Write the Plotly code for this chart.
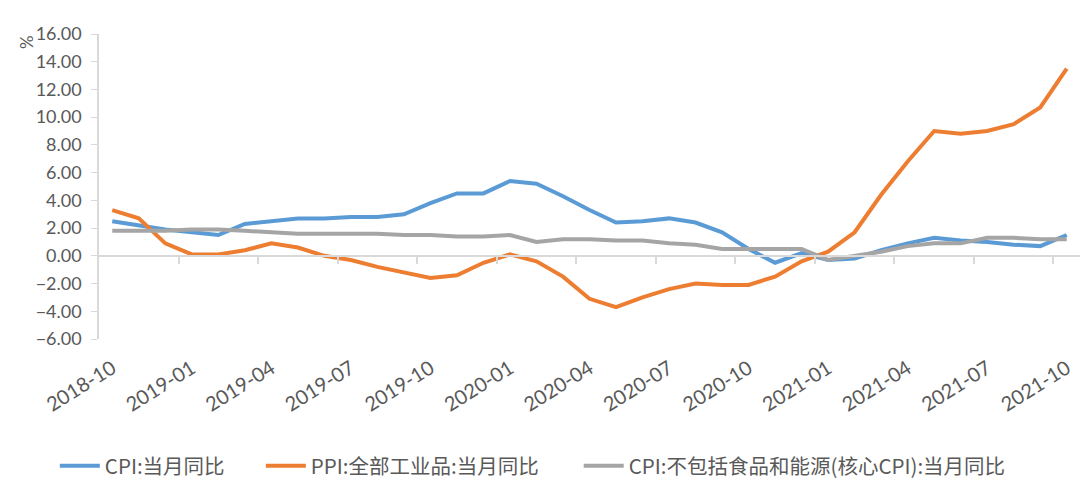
import plotly.graph_objects as go

# monthly, 2018-10 .. 2021-10
months = [
    "2018-10", "2018-11", "2018-12",
    "2019-01", "2019-02", "2019-03", "2019-04", "2019-05", "2019-06",
    "2019-07", "2019-08", "2019-09", "2019-10", "2019-11", "2019-12",
    "2020-01", "2020-02", "2020-03", "2020-04", "2020-05", "2020-06",
    "2020-07", "2020-08", "2020-09", "2020-10", "2020-11", "2020-12",
    "2021-01", "2021-02", "2021-03", "2021-04", "2021-05", "2021-06",
    "2021-07", "2021-08", "2021-09", "2021-10",
]
cpi = [2.5, 2.2, 1.9,
       1.7, 1.5, 2.3, 2.5, 2.7, 2.7, 2.8, 2.8, 3.0, 3.8, 4.5, 4.5,
       5.4, 5.2, 4.3, 3.3, 2.4, 2.5, 2.7, 2.4, 1.7, 0.5, -0.5, 0.2,
       -0.3, -0.2, 0.4, 0.9, 1.3, 1.1, 1.0, 0.8, 0.7, 1.5]
ppi = [3.3, 2.7, 0.9,
       0.1, 0.1, 0.4, 0.9, 0.6, 0.0, -0.3, -0.8, -1.2, -1.6, -1.4, -0.5,
       0.1, -0.4, -1.5, -3.1, -3.7, -3.0, -2.4, -2.0, -2.1, -2.1, -1.5, -0.4,
       0.3, 1.7, 4.4, 6.8, 9.0, 8.8, 9.0, 9.5, 10.7, 13.5]
core_cpi = [1.8, 1.8, 1.8,
            1.9, 1.9, 1.8, 1.7, 1.6, 1.6, 1.6, 1.6, 1.5, 1.5, 1.4, 1.4,
            1.5, 1.0, 1.2, 1.2, 1.1, 1.1, 0.9, 0.8, 0.5, 0.5, 0.5, 0.5,
            -0.3, 0.0, 0.3, 0.7, 0.9, 0.9, 1.3, 1.3, 1.2, 1.2]

series = [
    ("CPI:当月同比", cpi, "#5B9BD5"),
    ("PPI:全部工业品:当月同比", ppi, "#ED7D31"),
    ("CPI:不包括食品和能源(核心CPI):当月同比", core_cpi, "#A5A5A5"),
]
legend_x = [-0.045, 0.165, 0.489]

TEXT = "#595959"
AXIS = "#D9D9D9"
FONT = "Lato, 'Noto Sans CJK SC', sans-serif"
CJK = "'Noto Sans CJK SC', sans-serif"

idx = list(range(len(months)))
label_idx = idx[::3]

fig = go.Figure()
for i, (name, vals, color) in enumerate(series):
    fig.add_trace(go.Scatter(x=idx, y=vals, name=name, mode="lines",
                             line=dict(color=color, width=4),
                             legend="legend" if i == 0 else f"legend{i + 1}"))

# invisible trace to carry the category axis drawn along the zero line
fig.add_trace(go.Scatter(x=[idx[0], idx[-1]], y=[0, 0], xaxis="x2", mode="lines",
                         line=dict(width=0), showlegend=False, hoverinfo="skip"))

legend_style = dict(orientation="h", xanchor="left", y=-0.416, yanchor="middle",
                    font=dict(family=CJK, size=20.5, color=TEXT), itemwidth=40,
                    bgcolor="rgba(0,0,0,0)")

y_lo, y_hi = -6, 16
fig.update_layout(
    width=1082, height=492,
    paper_bgcolor="white", plot_bgcolor="white",
    font=dict(family=FONT, color=TEXT, size=18),
    margin=dict(l=91, r=10, t=26, b=161),
    showlegend=True,
    legend=dict(x=legend_x[0], **legend_style),
    legend2=dict(x=legend_x[1], **legend_style),
    legend3=dict(x=legend_x[2], **legend_style),
    xaxis=dict(range=[-0.5, len(months) - 0.5], tickmode="array", tickvals=label_idx,
               ticktext=[months[i] for i in label_idx], tickangle=-32,
               showgrid=False, zeroline=False, showline=False, ticks="",
               ticklabelstandoff=13, automargin=False,
               tickfont=dict(size=20, color=TEXT)),
    xaxis2=dict(overlaying="x", matches="x", anchor="free",
                position=(0 - y_lo) / (y_hi - y_lo),
                tickmode="array", tickvals=[i + 0.5 for i in idx[2::3]],
                showticklabels=False, ticks="outside", ticklen=7,
                tickcolor=AXIS, tickwidth=1.5, showline=True, linecolor=AXIS,
                linewidth=1.5, showgrid=False, zeroline=False),
    yaxis=dict(range=[y_lo, y_hi], dtick=2, tick0=0, tickformat=".2f",
               showgrid=False, zeroline=False, showline=True, linecolor=AXIS,
               linewidth=1.5, ticks="outside", ticklen=6, tickcolor=AXIS,
               ticklabelstandoff=6, automargin=False,
               tickfont=dict(size=18, color=TEXT)),
    annotations=[dict(text="%", xref="paper", yref="paper", x=-0.0734, y=0.974,
                      xanchor="center", yanchor="middle", showarrow=False,
                      textangle=-90, font=dict(size=17, color=TEXT))],
)

fig.write_html("out.html")
